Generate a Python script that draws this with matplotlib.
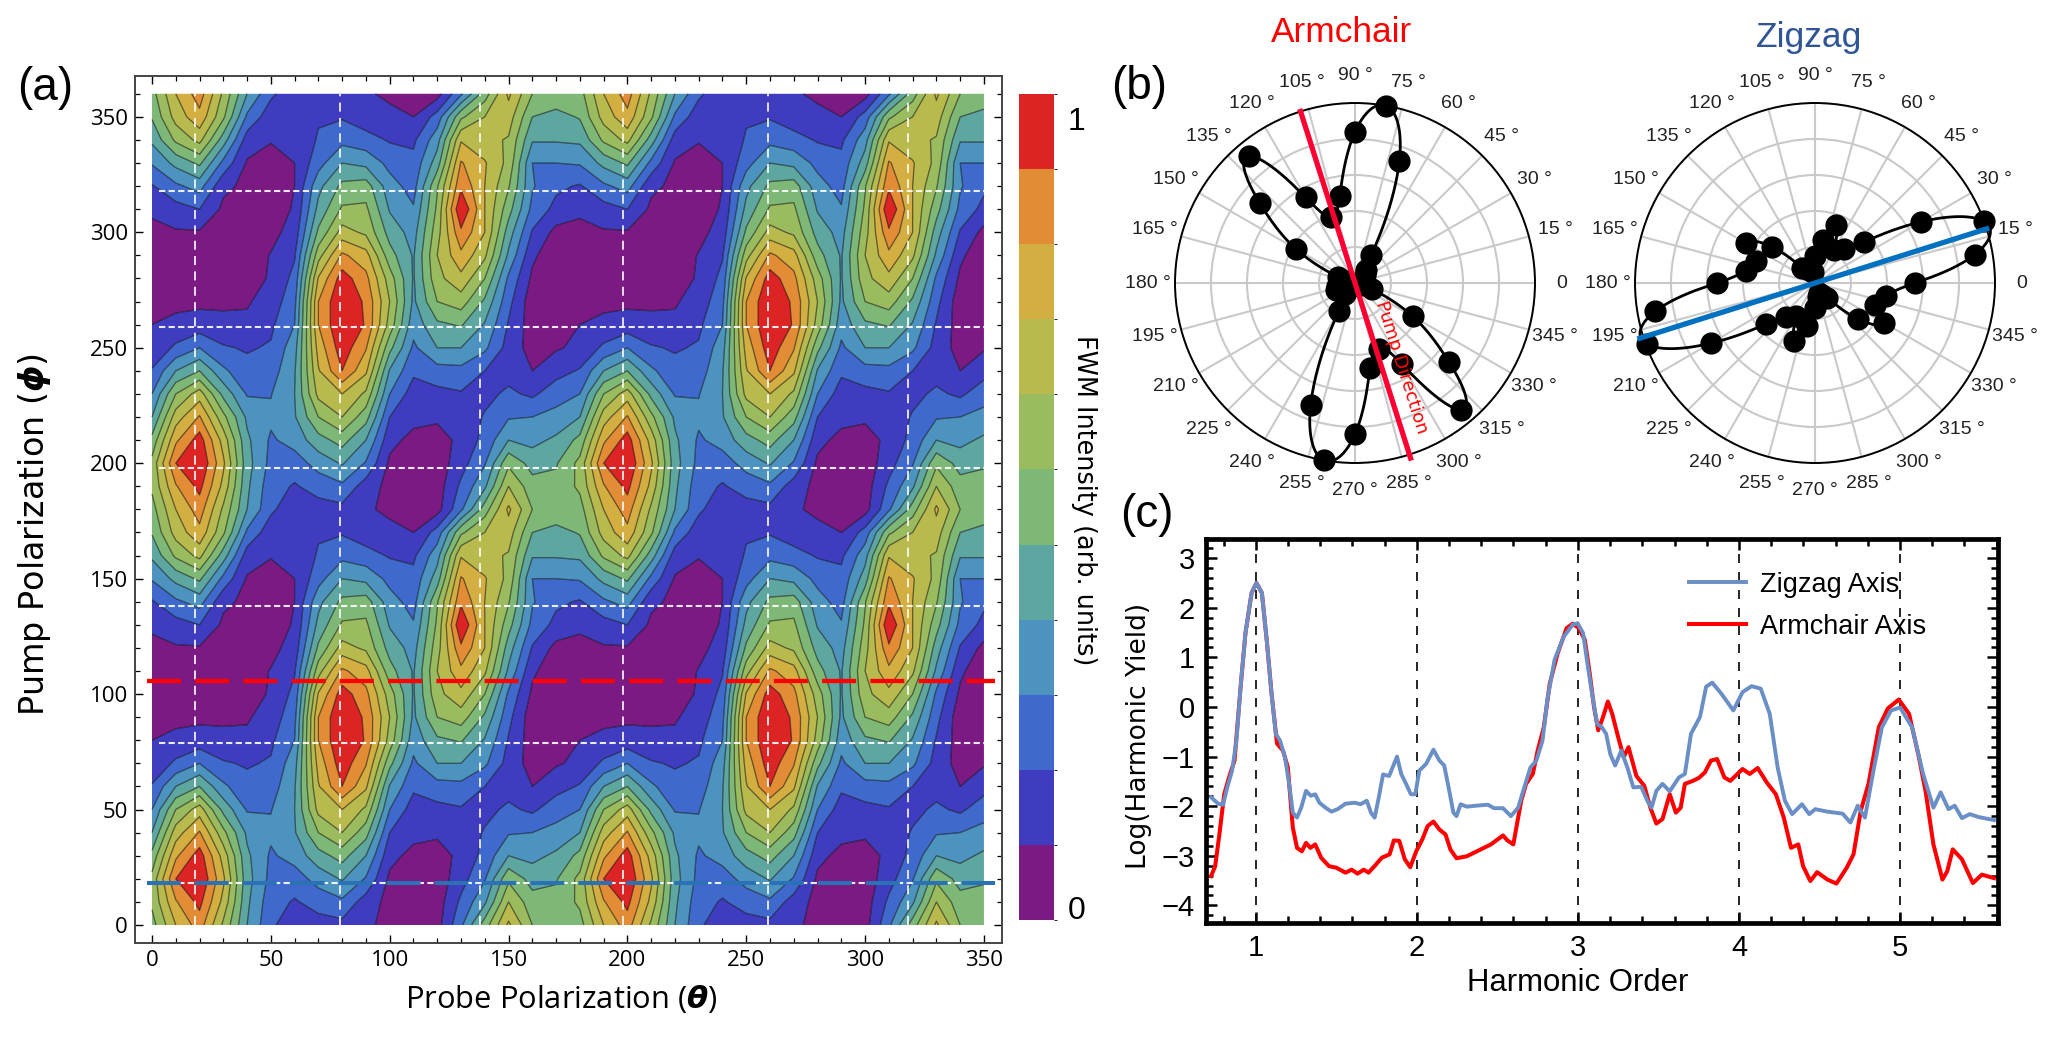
import numpy as np
import matplotlib
matplotlib.use("Agg")
import matplotlib.pyplot as plt
from matplotlib.colors import ListedColormap, BoundaryNorm
from matplotlib.ticker import MultipleLocator

W, H = 2050, 1039
plt.rcParams['font.family'] = ['Liberation Sans', 'DejaVu Sans']
plt.rcParams['mathtext.fontset'] = 'dejavusans'

# panel a: one 180 x 180 deg cell of the map, one list per probe angle (0,10..170)
# every list runs over pump angle 0,10..170, values are in contour band units (0-11)
fwm_columns = [
    [5.6, 6.2, 6.3, 5.3, 4.0, 3.0, 2.1, 1.2, 1.0, 0.6, 0.4, 0.4, 0.7, 1.2, 1.9, 3.1, 4.2, 5.1],
    [8.0, 8.9, 10.0, 8.8, 7.5, 6.0, 4.0, 2.2, 1.2, 0.8, 0.4, 0.3, 0.9, 1.6, 2.8, 4.3, 6.2, 7.4],
    [9.5, 10.3, 11.0, 10.5, 9.1, 7.5, 5.0, 3.0, 1.4, 0.8, 0.5, 0.3, 0.9, 2.0, 3.4, 5.2, 7.3, 8.7],
    [6.8, 7.7, 8.2, 7.6, 6.3, 4.7, 3.2, 2.1, 1.3, 0.8, 0.4, 0.3, 0.5, 0.8, 1.2, 2.7, 4.5, 6.2],
    [4.0, 4.2, 4.4, 4.2, 3.8, 2.9, 2.3, 1.9, 1.2, 0.9, 0.6, 0.5, 0.5, 0.6, 0.8, 0.9, 1.5, 2.8],
    [2.2, 2.4, 2.7, 2.85, 3.2, 2.95, 2.5, 2.1, 1.8, 1.4, 1.1, 1.05, 0.7, 0.5, 0.4, 0.4, 1.1, 1.4],
    [1.3, 1.9, 2.5, 3.4, 3.9, 4.0, 3.9, 3.6, 3.0, 2.7, 2.3, 1.9, 1.4, 1.1, 1.0, 1.0, 1.2, 1.3],
    [1.6, 2.4, 3.4, 4.6, 6.0, 7.3, 7.9, 8.4, 9.0, 9.0, 8.1, 6.6, 5.2, 4.3, 3.7, 2.6, 2.1, 1.9],
    [1.7, 2.8, 4.1, 5.4, 7.0, 8.0, 10.0, 10.6, 11.0, 11.0, 10.5, 9.2, 7.4, 6.15, 5.25, 4.0, 2.7, 1.9],
    [1.2, 1.5, 2.9, 4.0, 5.4, 6.8, 8.2, 9.1, 9.9, 9.8, 9.3, 8.4, 6.8, 6.2, 5.5, 3.7, 2.4, 1.4],
    [0.7, 0.7, 0.8, 1.3, 2.0, 3.0, 3.9, 5.3, 6.6, 7.0, 6.5, 5.4, 4.6, 3.9, 3.4, 2.7, 1.9, 1.4],
    [0.2, 0.2, 0.4, 0.7, 1.3, 1.5, 2.2, 2.8, 3.4, 3.8, 3.9, 3.9, 3.6, 3.1, 2.6, 2.3, 1.8, 1.0],
    [0.6, 0.5, 0.4, 0.5, 1.2, 1.7, 2.6, 4.0, 4.8, 6.0, 6.7, 7.0, 6.6, 6.2, 5.9, 4.5, 3.6, 2.4],
    [2.8, 2.2, 1.6, 1.3, 1.3, 1.9, 2.7, 4.0, 5.1, 6.5, 7.7, 8.75, 9.8, 11.0, 9.8, 9.1, 7.9, 5.8],
    [5.5, 3.8, 2.9, 2.3, 2.1, 1.7, 2.0, 3.2, 3.9, 4.8, 6.0, 7.2, 8.0, 8.0, 8.0, 8.1, 7.3, 7.0],
    [8.2, 7.0, 5.8, 4.0, 2.9, 2.2, 1.6, 1.6, 1.9, 2.3, 2.8, 3.8, 4.5, 5.4, 6.1, 6.7, 6.9, 7.5],
    [6.0, 5.4, 4.6, 3.7, 3.0, 1.8, 1.0, 0.6, 0.5, 0.4, 0.8, 1.2, 1.9, 2.7, 3.1, 3.0, 4.1, 5.0],
    [5.8, 5.3, 4.9, 4.2, 3.3, 2.6, 1.6, 0.9, 0.4, 0.3, 0.3, 0.3, 0.7, 1.7, 2.2, 3.0, 4.1, 4.6],
]
probe_angles = np.arange(0, 360, 10)
pump_angles = np.arange(0, 370, 10)
white_probe = [18, 79, 138, 198, 259, 318]
white_pump = [18, 79, 138, 198, 259, 318]
armchair_pump = 105.5
zigzag_pump = 18
band_colors = ['#7a1a82', '#3f3cc0', '#3f69cc', '#4c93bf', '#5ea6a0', '#7eb876',
               '#9bbc5e', '#b9ba4e', '#d3af41', '#e38c36', '#dc2424']

# panel b
polar_angles = np.arange(0, 360, 10)
armchair_r = [0.03, 0.04, 0.04, 0.06, 0.07, 0.094, 0.18, 0.72, 1.0, 0.84, 0.49, 0.39,
              0.55, 0.92, 0.69, 0.38, 0.10, 0.05, 0.09, 0.10, 0.11, 0.09, 0.06, 0.083,
              0.18, 0.72, 1.0, 0.84, 0.48, 0.39, 0.52, 0.92, 0.68, 0.37, 0.10, 0.05]
zigzag_r = [0.555, 0.90, 1.0, 0.68, 0.353, 0.25, 0.213, 0.344, 0.244, 0.148, 0.06, 0.07,
            0.09, 0.11, 0.31, 0.44, 0.35, 0.39, 0.545, 0.90, 0.994, 0.67, 0.355, 0.25,
            0.21, 0.342, 0.245, 0.14, 0.08, 0.06, 0.08, 0.107, 0.31, 0.44, 0.357, 0.40]
armchair_axis = 107.6
zigzag_axis = 17.5

# panel c
zig_h = [.722, .767, .797, .823, .853, .880, .906, .936, .974, 1.004, 1.038, 1.068, 1.098, 1.124, 1.151, 1.181,
         1.207, 1.230, 1.256, 1.282, 1.312, 1.342, 1.369, 1.395, 1.433, 1.470, 1.508, 1.557, 1.613, 1.651, 1.689,
         1.715, 1.738, 1.764, 1.790, 1.828, 1.877, 1.903, 1.933, 1.963, 1.990, 2.016, 2.057, 2.103, 2.140, 2.170,
         2.197, 2.227, 2.246, 2.272, 2.310, 2.366, 2.441, 2.479, 2.535, 2.584, 2.629, 2.667, 2.705, 2.742, 2.780,
         2.810, 2.855, 2.912, 2.968, 2.998, 3.032, 3.062, 3.088, 3.119, 3.149, 3.175, 3.201, 3.231, 3.269, 3.307,
         3.344, 3.393, 3.431, 3.457, 3.487, 3.525, 3.570, 3.627, 3.664, 3.702, 3.758, 3.796, 3.834, 3.890, 3.965,
         4.022, 4.078, 4.135, 4.191, 4.240, 4.285, 4.330, 4.391, 4.436, 4.473, 4.549, 4.643, 4.692, 4.737, 4.782,
         4.831, 4.887, 4.944, 5.000, 5.075, 5.143, 5.207, 5.252, 5.301, 5.339, 5.384, 5.433, 5.489, 5.583]
zig_y = [-1.82, -1.95, -1.97, -1.62, -1.28, -.68, .41, 1.49, 2.30, 2.50, 2.30, 1.35, .27, -.54, -.68, -1.01,
         -1.55, -2.13, -2.23, -2.03, -1.69, -1.79, -1.76, -1.93, -2.03, -2.11, -2.06, -1.95, -1.93, -1.96, -1.89,
         -2.13, -2.23, -1.82, -1.36, -1.39, -1.00, -1.35, -1.55, -1.76, -1.76, -1.28, -1.15, -.86, -1.08, -1.18,
         -1.62, -2.13, -2.20, -1.96, -2.01, -1.99, -1.97, -2.04, -2.04, -2.20, -2.03, -1.62, -1.22, -1.08, -.68,
         .14, .95, 1.42, 1.66, 1.69, 1.49, .81, .27, -.34, -.41, -.54, -.95, -1.18, -.88, -1.22,
         -1.62, -1.61, -1.89, -2.03, -1.69, -1.55, -1.70, -1.42, -1.35, -.54, -.20, .41, .49, .27, -.07,
         .30, .42, .37, -.14, -1.22, -1.89, -2.16, -1.96, -2.16, -2.06, -2.11, -2.15, -2.33, -1.99, -2.23,
         -1.35, -.41, -.07, -.01, -.41, -1.35, -2.03, -1.72, -2.06, -1.99, -2.24, -2.16, -2.22, -2.28]
arm_h = [.722, .748, .774, .804, .834, .868, .906, .936, .974, 1.004, 1.038, 1.068, 1.098, 1.132, 1.169, 1.199,
         1.230, 1.256, 1.286, 1.312, 1.339, 1.369, 1.406, 1.455, 1.500, 1.557, 1.595, 1.632, 1.670, 1.700, 1.745,
         1.782, 1.831, 1.857, 1.891, 1.925, 1.959, 1.996, 2.034, 2.067, 2.103, 2.140, 2.178, 2.208, 2.246, 2.310,
         2.385, 2.460, 2.535, 2.562, 2.599, 2.648, 2.678, 2.720, 2.750, 2.788, 2.825, 2.874, 2.930, 2.968, 3.006,
         3.043, 3.073, 3.100, 3.126, 3.156, 3.186, 3.213, 3.250, 3.284, 3.314, 3.363, 3.412, 3.450, 3.487, 3.525,
         3.570, 3.608, 3.638, 3.664, 3.713, 3.751, 3.788, 3.826, 3.864, 3.909, 3.946, 4.022, 4.067, 4.116, 4.172,
         4.229, 4.278, 4.323, 4.368, 4.398, 4.443, 4.485, 4.549, 4.605, 4.669, 4.711, 4.756, 4.804, 4.868, 4.924,
         4.992, 5.056, 5.113, 5.158, 5.207, 5.263, 5.293, 5.327, 5.384, 5.452, 5.508, 5.583]
arm_y = [-3.41, -3.21, -2.57, -1.76, -1.42, -1.08, .41, 1.49, 2.30, 2.50, 2.30, 1.35, .27, -.74, -.88, -1.22,
         -2.43, -2.84, -2.91, -2.74, -2.84, -2.77, -3.04, -3.21, -3.24, -3.34, -3.28, -3.36, -3.28, -3.34, -3.18,
         -3.04, -2.97, -2.69, -2.70, -3.07, -3.23, -2.91, -2.67, -2.40, -2.31, -2.47, -2.57, -2.87, -3.05, -3.01,
         -2.89, -2.77, -2.59, -2.69, -2.77, -1.89, -1.55, -1.35, -.88, -.41, .47, 1.08, 1.59, 1.68, 1.59,
         1.35, .68, 0, -.47, -.20, .11, -.14, -.61, -1.01, -.81, -1.39, -1.59, -2.03, -2.35, -2.26,
         -1.76, -2.13, -2.03, -1.55, -1.49, -1.43, -1.32, -1.08, -1.05, -1.42, -1.49, -1.25, -1.35, -1.23, -1.52,
         -1.76, -2.23, -2.84, -2.77, -3.21, -3.51, -3.33, -3.48, -3.56, -3.24, -2.97, -2.09, -1.55, -.41, -.03,
         .15, -.14, -.95, -1.69, -2.77, -3.48, -3.31, -2.87, -3.07, -3.55, -3.38, -3.45]
harmonics = [1, 2, 3, 4, 5]


def box(left, top, right, bottom, **kw):
    return fig.add_axes([left / W, 1 - bottom / H, (right - left) / W, (bottom - top) / H], **kw)


def label(x, y, s, **kw):
    fig.text(x / W, 1 - y / H, s, ha='center', va='center', **kw)


def periodic_spline(angles, r, n=1440):
    # closed cubic spline through evenly spaced angles
    r = np.asarray(r, float)
    m = len(r)
    step = 360 / m
    A = 4 * np.eye(m) + np.roll(np.eye(m), 1, axis=1) + np.roll(np.eye(m), -1, axis=1)
    M = np.linalg.solve(A, 6 * (np.roll(r, -1) - 2 * r + np.roll(r, 1)) / step ** 2)
    t = np.linspace(0, 360, n + 1)
    i = np.minimum((t / step).astype(int), m - 1)
    a = (i + 1) * step - t
    b = t - i * step
    j = (i + 1) % m
    s = (M[i] * a ** 3 + M[j] * b ** 3) / (6 * step) + (r[i] - M[i] * step ** 2 / 6) * a / step \
        + (r[j] - M[j] * step ** 2 / 6) * b / step
    return np.radians(t), s


fig = plt.figure(figsize=(W / 100, H / 100), dpi=100)

# (a)
ax = box(135, 76, 1002, 943)
cell = np.array(fwm_columns).T
fwm = np.tile(cell, (2, 2))
fwm = np.vstack([fwm, fwm[0]]) / 11
levels = np.linspace(0, 1, 12)
cmap = ListedColormap(band_colors)
norm = BoundaryNorm(levels, cmap.N)
cf = ax.contourf(probe_angles, pump_angles, fwm, levels=levels, cmap=cmap, norm=norm, antialiased=True)
ax.contour(probe_angles, pump_angles, fwm, levels=levels[1:-1], colors='k', linewidths=0.9, alpha=0.55)
for v in white_probe:
    ax.plot([v, v], [0, 360], color='white', lw=1.3, dashes=(5, 3.5), alpha=0.9)
for v in white_pump:
    ax.plot([3, 350], [v, v], color='white', lw=1.5, dashes=(3, 1.6), alpha=0.9)
ax.plot([-2, 354.5], [armchair_pump] * 2, color='#ff0000', lw=3.1, dashes=(7.9, 3.3))
ax.plot([-2, 354.5], [zigzag_pump] * 2, color='#2a72b5', lw=2.9, dashes=(8.4, 3.5))
ax.set_xlim(-7.15, 357.6)
ax.set_ylim(-7.8, 367.7)
ax.xaxis.set_major_locator(MultipleLocator(50))
ax.xaxis.set_minor_locator(MultipleLocator(10))
ax.yaxis.set_major_locator(MultipleLocator(50))
ax.yaxis.set_minor_locator(MultipleLocator(10))
ax.tick_params(which='major', direction='in', top=True, right=True, length=6, width=1, labelsize=16, pad=5)
ax.tick_params(which='minor', direction='in', top=True, right=True, length=3.5, width=0.9)
for sp in ax.spines.values():
    sp.set_color('#444444')
    sp.set_linewidth(1.4)
for t in ax.get_xticklabels() + ax.get_yticklabels():
    t.set_family('Open Sans')
label(561, 999, r'Probe Polarization ($\boldsymbol{\theta}$)', fontsize=22.2, family='Open Sans')
label(35, 534, r'Pump Polarization ($\boldsymbol{\phi}$)', fontsize=24, family='DejaVu Sans', rotation=90)
label(45, 88, '(a)', fontsize=33)

# colour bar
cax = box(1019, 94, 1054, 920)
cb = fig.colorbar(cf, cax=cax)
cb.outline.set_visible(False)
cb.set_ticks([0.015, 0.97], labels=['0', '1'])
cax.tick_params(length=0, labelsize=23, pad=10)
label(1084, 500, 'FWM Intensity (arb. units)', fontsize=18.4, family='DejaVu Sans', rotation=270)

# (b)
tick_angles = np.arange(0, 360, 15)
tick_labels = ['0' if a == 0 else f'{a} °' for a in tick_angles]
for cx, cy, r_vals, axis_angle, axis_color in [(1355, 283, armchair_r, armchair_axis, '#ff0033'),
                                                (1815, 283, zigzag_r, zigzag_axis, '#0070c0')]:
    pol = box(cx - 180, cy - 180, cx + 180, cy + 180, projection='polar')
    pol.set_thetagrids(tick_angles, tick_labels, fontsize=14, color='#222222')
    pol.set_rgrids([0.2, 0.4, 0.6, 0.8, 1.0], labels=[])
    pol.set_rlim(0, 1)
    pol.grid(color='#c9c9c9', lw=1.5)
    pol.xaxis.set_minor_locator(MultipleLocator(np.radians(5)))
    pol.tick_params(axis='x', which='major', length=5, width=1.2, direction='out', pad=7.5)
    pol.tick_params(axis='x', which='minor', length=3, width=1, direction='out')
    pol.spines['polar'].set_linewidth(1.4)
    th, rr = periodic_spline(polar_angles, r_vals)
    pol.plot(th, rr, color='k', lw=2, clip_on=False, zorder=3)
    pol.plot(np.radians(polar_angles), r_vals, 'o', color='k', ms=16, clip_on=False, zorder=4, mew=0)
    ang = np.radians(axis_angle)
    pol.plot([ang, ang + np.pi], [1.0, 1.02], color=axis_color, lw=3.8, clip_on=False, zorder=5)
label(1342, 32, 'Armchair', fontsize=25.4, color='#ff0000')
label(1809, 38, 'Zigzag', fontsize=25.5, color='#2f5597')
label(1139, 87, '(b)', fontsize=33)
label(1401, 367, 'Pump Direction', fontsize=13, color='#ff0000', family='DejaVu Sans', rotation=-72.4)

# (c)
axc = box(1206, 539, 1998, 923)
for h in harmonics:
    axc.axvline(h, ymin=0.0, ymax=0.96, color='k', lw=1.2, dashes=(5.4, 5.4))
axc.plot(arm_h, arm_y, color='#ff0000', lw=2.9, label='Armchair Axis', solid_joinstyle='round')
axc.plot(zig_h, zig_y, color='#6a8ec6', lw=2.8, label='Zigzag Axis', solid_joinstyle='round')
axc.set_xlim(0.691, 5.608)
axc.set_ylim(-4.355, 3.387)
axc.set_xticks(harmonics)
axc.xaxis.set_minor_locator(MultipleLocator(0.2))
axc.yaxis.set_major_locator(MultipleLocator(1))
axc.yaxis.set_minor_locator(MultipleLocator(0.2))
axc.tick_params(which='major', direction='in', top=True, right=True, length=8, width=1.8, labelsize=21, pad=8)
axc.tick_params(which='minor', direction='in', top=True, right=True, length=5, width=1.8)
for sp in axc.spines.values():
    sp.set_linewidth(3.4)
handles, labs = axc.get_legend_handles_labels()
axc.legend(handles[::-1], labs[::-1], frameon=False, fontsize=19.5, handlelength=2.1, handletextpad=0.5,
           labelspacing=0.6, loc='upper left', bbox_to_anchor=(0.61, 0.915), borderpad=0, borderaxespad=0)
label(1578, 983, 'Harmonic Order', fontsize=22.4)
label(1139, 736, 'Log(Harmonic Yield)', fontsize=19, family='DejaVu Sans', rotation=90)
label(1147, 515, '(c)', fontsize=33)

fig.savefig('out.png', dpi=100)
